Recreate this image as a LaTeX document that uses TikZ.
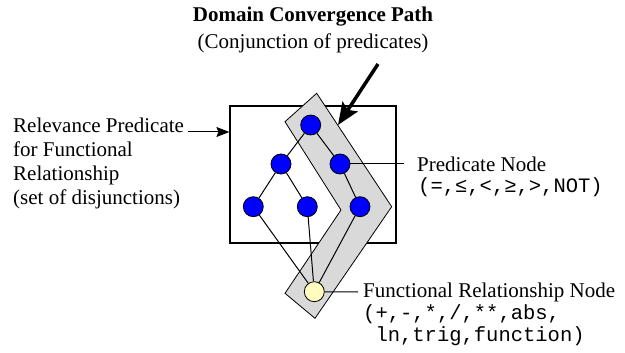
\documentclass[tikz,border=0pt]{standalone}
\usepackage{fontspec}
\setmainfont{Liberation Serif}
\setmonofont{Liberation Mono}
\usetikzlibrary{arrows.meta}
\begin{document}
\begin{tikzpicture}[x=1pt,y=-1pt,
  txt/.style={inner sep=0pt,font=\fontsize{21}{24}\selectfont},
  pnode/.style={circle,draw=black,line width=0.8pt,fill=blue,minimum size=20pt,inner sep=0pt},
  fnode/.style={circle,draw=black,line width=0.8pt,fill=yellow!25,minimum size=20pt,inner sep=0pt},
  edge/.style={draw=black,line width=1pt},
  band/.style={draw=black,line width=0.8pt,fill=black!15},
  thinarrow/.style={draw=black,line width=1pt,-{Stealth[length=13pt,width=10pt,inset=2pt]}},
  bigarrow/.style={draw=black,line width=3.5pt,-{Stealth[length=22pt,width=18pt,inset=4pt]}}]
\useasboundingbox (0,0) rectangle (625,353);
% box
\node[draw=black,line width=1.2pt,minimum width=166pt,minimum height=137pt,inner sep=0pt] (box) at (313,174.5) {};
% band
\path[band] (316.7,93.3) -- (391.7,206.7) -- (315,318.3) -- (285,293.3) -- (341,210) -- (285,121.7) -- cycle;
% nodes
\node[pnode] (t) at (310.7,125) {};
\node[pnode] (ml) at (281,164) {};
\node[pnode] (mr) at (340,164) {};
\node[pnode] (bl) at (253.3,206.7) {};
\node[pnode] (bm) at (307.3,206.7) {};
\node[pnode] (br) at (360,206.7) {};
\node[fnode] (f) at (314.3,291.7) {};
% edges
\draw[edge] (t) -- (ml);
\draw[edge] (t) -- (mr);
\draw[edge] (ml) -- (bl);
\draw[edge] (ml) -- (bm);
\draw[edge] (mr) -- (br);
\draw[edge] (bl) -- (f);
\draw[edge] (bm) -- (f);
\draw[edge] (br) -- (f);
% title
\node[txt,font=\fontsize{21}{24}\selectfont\bfseries] (title) at (313,17) {Domain Convergence Path};
\node[txt] (sub) at (313,43) {(Conjunction of predicates)};
\coordinate (arrstart) at (378,64);
\coordinate (arrtip) at (338,125);
\draw[bigarrow] (arrstart) -- (arrtip);
% left label
\node[txt,align=left,anchor=north west] (rel) at (13,118) {Relevance Predicate\\for Functional\\Relationship\\(set of disjunctions)};
\coordinate (relend) at (188,132);
\draw[thinarrow] (relend) -- (box.west |- relend);
% predicate label
\node[txt,anchor=west] (pred) at (417,164) {Predicate Node};
\node[txt,anchor=west,font=\fontsize{20.5}{24}\ttfamily] (predops) at (418,187) {(=,≤,<,≥,>,NOT)};
\draw[edge] (mr) -- (pred.west -| 404,0);
% functional label
\node[txt,anchor=west] (func) at (363,292) {Functional Relationship Node};
\node[txt,anchor=north west,align=left,font=\fontsize{20.5}{22}\ttfamily] (funcops) at (363,304) {(+,-,*,/,**,abs,\\\phantom{(}ln,trig,function)};
\draw[edge] (f) -- (func.west -| 358,0);
\end{tikzpicture}
\end{document}
